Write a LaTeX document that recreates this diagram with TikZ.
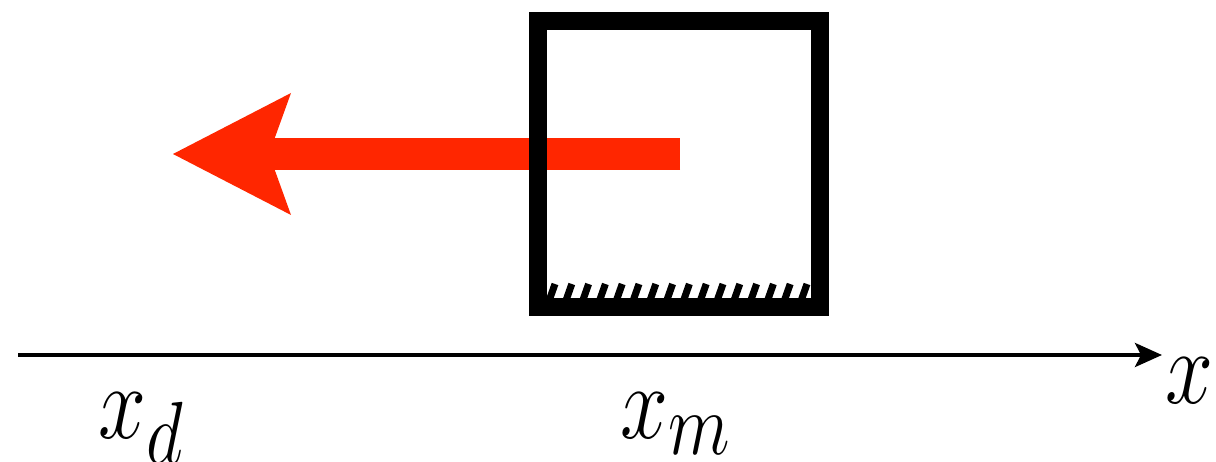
\documentclass[tikz,border=0pt]{standalone}
\usepackage{amsmath}
\usepackage{tikz}
\usetikzlibrary{arrows.meta}
\definecolor{frcred}{RGB}{255,38,0}

\begin{document}
\begin{tikzpicture}[font=\Huge]
  \tikzset{axlabel/.style={anchor=base west, inner sep=0pt, xscale=1.97, yscale=2.42, transform shape}}
  \useasboundingbox (0,0) rectangle (24.32,9.24);
  % ---- force on the mass (drawn first, box sits on top) ----
  \coordinate (fstart) at (13.6,6.16);
  \coordinate (ftip) at (3.46,6.16);
  \draw[frcred, line width=0.64cm, -{Stealth[length=2.36cm, width=2.44cm, inset=0.44cm, line width=0pt]}] (fstart) -- (ftip);
  % ---- mass with rough floor ----
  \node[draw, line width=0.36cm, minimum width=5.64cm, minimum height=5.72cm, inner sep=0pt] (mass) at (13.58,5.96) {};
  \foreach \i in {0,...,15}
    \draw[line width=0.14cm] (10.98+0.336*\i,3.22) -- ++(0.12,0.34);
  % ---- axis ----
  \coordinate (axstart) at (0.36,2.14);
  \coordinate (axend) at (23.24,2.14);
  \draw[-{Stealth[length=0.54cm, width=0.48cm, inset=0.12cm]}, line width=0.08cm] (axstart) -- (axend);
  \node[axlabel] (xlabel) at (23.3,1.17) {$x$};
  \node[axlabel] (xd) at (1.95,0.46) {$x_d$};
  \node[axlabel] (xm) at (12.39,0.46) {$x_m$};
\end{tikzpicture}
\end{document}
